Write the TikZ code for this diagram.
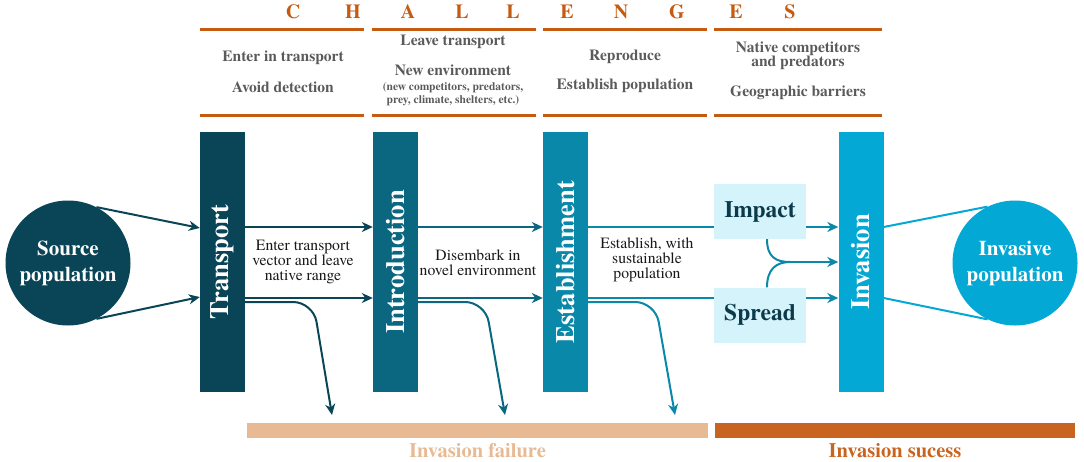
\documentclass[tikz,border=0pt]{standalone}
\usepackage{fontspec}
\setmainfont{texgyretermes}[Extension=.otf, UprightFont=*-regular, BoldFont=*-bold, ItalicFont=*-italic, BoldItalicFont=*-bolditalic]
\usetikzlibrary{arrows.meta,calc}
\definecolor{cT}{HTML}{0A4557}
\definecolor{cI}{HTML}{0B6680}
\definecolor{cE}{HTML}{0A88AA}
\definecolor{cV}{HTML}{03A8D4}
\definecolor{boxfill}{HTML}{D5F3FB}
\definecolor{boxtext}{HTML}{0B3A4B}
\definecolor{orng}{HTML}{C55A11}
\definecolor{succ}{HTML}{C8641F}
\definecolor{failc}{HTML}{E8BA94}
\definecolor{grayt}{HTML}{5A5A5A}
\begin{document}
\begin{tikzpicture}[x=1pt,y=-1pt,
  bar/.style={minimum width=45pt,minimum height=260pt,inner sep=0pt,draw=none},
  bartext/.style={rotate=90,text=white,inner sep=0pt,font=\fontsize{26.5}{28}\selectfont\bfseries},
  pop/.style={circle,minimum size=125pt,inner sep=0pt,text=white,align=center,font=\fontsize{21}{26}\selectfont\bfseries},
  arr/.style={line width=2pt,-{Stealth[length=11pt,width=10pt,inset=3.5pt]}},
  ln/.style={line width=2pt},
  fail/.style={line width=2pt,rounded corners=20pt,-{Stealth[length=11pt,width=10pt,inset=3.5pt]}},
  chal/.style={text=orng,inner sep=0pt,font=\fontsize{20}{22}\selectfont\bfseries},
  seg/.style={draw=orng,line width=3pt},
  ctext/.style={text=grayt,inner sep=0pt,font=\fontsize{15.5}{16}\selectfont\bfseries},
  csmall/.style={text=grayt,inner sep=0pt,font=\fontsize{11.5}{12}\selectfont\bfseries},
  mlabel/.style={text=black!90,align=center,inner sep=0pt,font=\fontsize{15.7}{14.7}\selectfont},
  ibox/.style={fill=boxfill,minimum width=92pt,minimum height=55pt,inner sep=0pt,text=boxtext,font=\fontsize{23.5}{25}\selectfont\bfseries},
  bottombar/.style={minimum height=15pt,inner sep=0pt,draw=none},
  blabel/.style={inner sep=0pt,font=\fontsize{20.5}{22}\selectfont\bfseries}
]
\useasboundingbox (0,0) rectangle (1084,461);

% CHALLENGES heading
\node[chal] (h1) at (293,11.5) {C};
\node[chal] (h2) at (353,11.5) {H};
\node[chal] (h3) at (408,11.5) {A};
\node[chal] (h4) at (462,11.5) {L};
\node[chal] (h5) at (513,11.5) {L};
\node[chal] (h6) at (567,11.5) {E};
\node[chal] (h7) at (621,11.5) {N};
\node[chal] (h8) at (677,11.5) {G};
\node[chal] (h9) at (736,11.5) {E};
\node[chal] (h10) at (790,11.5) {S};

% orange rules
\draw[seg] (200,29) -- (364,29);
\draw[seg] (372,29) -- (536,29);
\draw[seg] (543,29) -- (707,29);
\draw[seg] (714,29) -- (882,29);
\draw[seg] (200,115) -- (364,115);
\draw[seg] (372,115) -- (536,115);
\draw[seg] (543,115) -- (707,115);
\draw[seg] (714,115) -- (882,115);

% challenge texts
\node[ctext] (c1a) at (283,58) {Enter in transport};
\node[ctext] (c1b) at (283,87) {Avoid detection};
\node[ctext] (c2a) at (453,42) {Leave transport};
\node[ctext] (c2b) at (453,70) {New environment};
\node[csmall] (c2c) at (453,88) {(new competitors, predators,};
\node[csmall] (c2d) at (453,101) {prey, climate, shelters, etc.)};
\node[ctext] (c3a) at (625,57) {Reproduce};
\node[ctext] (c3b) at (625,86) {Establish population};
\node[ctext] (c4a) at (798,49) {Native competitors};
\node[ctext] (c4b) at (798,63) {and predators};
\node[ctext] (c4c) at (798,93) {Geographic barriers};

% bars
\node[bar,fill=cT] (T) at (222.5,262) {};
\node[bar,fill=cI] (I) at (395.5,262) {};
\node[bar,fill=cE] (E) at (565.5,262) {};
\node[bar,fill=cV] (V) at (861,262) {};
\node[bartext] (Tt) at (T) {Transport};
\node[bartext] (It) at (I) {Introduction};
\node[bartext] (Et) at (E) {Establishment};
\node[bartext] (Vt) at (V) {Invasion};

% populations
\node[pop,fill=cT] (src) at (68,263) {Source\\population};
\node[pop,fill=cV] (inv) at (1015,263) {Invasive\\population};

% source to transport
\draw[arr,cT] (src.63) -- ([yshift=34pt]T.west);
\draw[arr,cT] (src.-63) -- ([yshift=-35pt]T.west);

% transport to introduction
\draw[arr,cT] ([yshift=35pt]T.east) -- ([yshift=35pt]I.west);
\draw[arr,cT] ([yshift=-36pt]T.east) -- ([yshift=-36pt]I.west);
\node[mlabel] (l1) at (303,262) {Enter transport\\vector and leave\\native range};

% introduction to establishment
\draw[arr,cI] ([yshift=35pt]I.east) -- ([yshift=35pt]E.west);
\draw[arr,cI] ([yshift=-36pt]I.east) -- ([yshift=-36pt]E.west);
\node[mlabel] (l2) at (478,262.5) {Disembark in\\novel environment};

% establishment to invasion
\draw[arr,cE] ([yshift=35pt]E.east) -- ([yshift=35pt]V.west);
\draw[arr,cE] ([yshift=-36pt]E.east) -- ([yshift=-36pt]V.west);
\node[mlabel] (l3) at (647,260) {Establish, with\\sustainable\\population};

% failure arrows
\coordinate (f1) at (332,415);
\coordinate (f2) at (505,415);
\coordinate (f3) at (675,415);
\draw[fail,cT] ([yshift=-40pt]T.east) -- ++(68,0) -- (f1);
\draw[fail,cI] ([yshift=-40pt]I.east) -- ++(67,0) -- (f2);
\draw[fail,cE] ([yshift=-40pt]E.east) -- ++(67,0) -- (f3);

% impact / spread
\node[ibox] (imp) at (760,211.5) {Impact};
\node[ibox] (spr) at (760,315) {Spread};
\coordinate (m) at (790,262);
\draw[ln,cE] ([xshift=7pt]imp.south) .. controls +(0,18) and +(-14,0) .. (m);
\draw[ln,cE] ([xshift=7pt]spr.north) .. controls +(0,-18) and +(-14,0) .. (m);
\draw[arr,cE] (m) -- (V.west);

% invasion to invasive population
\draw[ln,cV] ([yshift=35pt]V.east) -- (inv.116);
\draw[ln,cV] ([yshift=-36pt]V.east) -- (inv.244);

% bottom bars
\node[bottombar,fill=failc,minimum width=461pt] (fb) at (477.5,430.5) {};
\node[bottombar,fill=succ,minimum width=360pt] (sb) at (895,430.5) {};
\node[blabel,text=failc] (fl) at (477.5,450.5) {Invasion failure};
\node[blabel,text=succ] (sl) at (895,450.5) {Invasion sucess};
\end{tikzpicture}
\end{document}
